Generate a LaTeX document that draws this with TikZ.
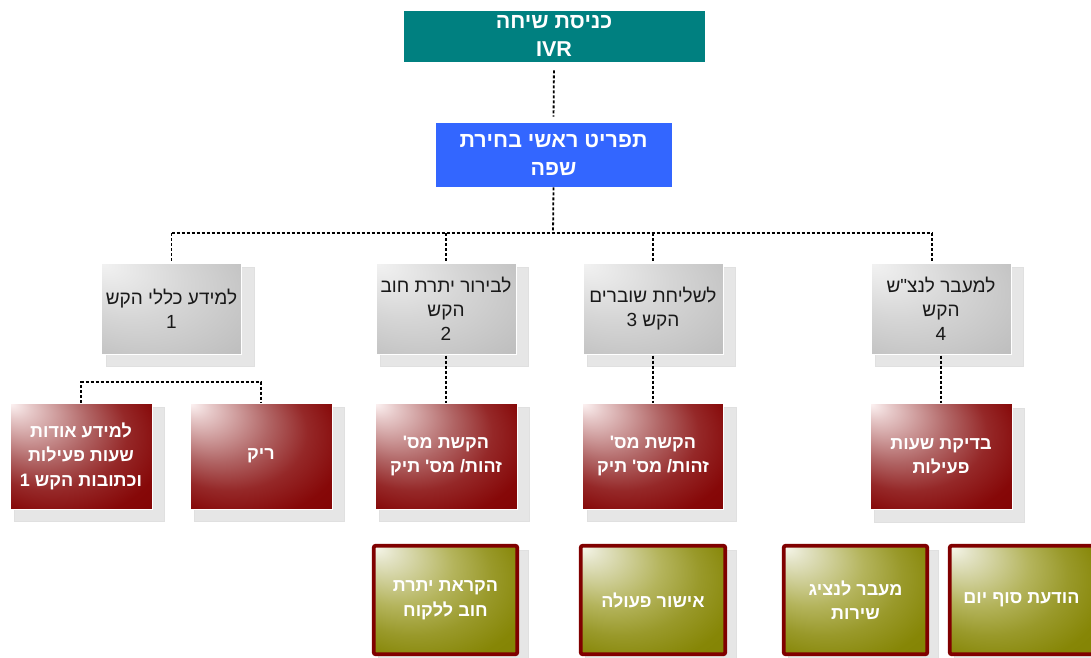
\documentclass[tikz,border=0pt]{standalone}
\usepackage{fontspec}
\usetikzlibrary{backgrounds}
\TeXXeTstate=1
\newfontfamily\hebfont[Script=Hebrew]{Liberation Sans}
\newcommand{\rtltext}[1]{\beginR#1\endR}

\definecolor{tealhead}{HTML}{008080}
\definecolor{bluemenu}{HTML}{3366FF}
\definecolor{dropgray}{HTML}{E6E6E6}
\definecolor{darkred}{HTML}{800000}
\definecolor{grayA}{HTML}{F2F2F2}
\definecolor{grayB}{HTML}{D6D6D6}
\definecolor{grayC}{HTML}{C2C2C2}
\definecolor{grayD}{HTML}{B4B4B4}
\definecolor{redA}{HTML}{FDF3F3}
\definecolor{redB}{HTML}{E6C8C8}
\definecolor{redC}{HTML}{B06464}
\definecolor{redD}{HTML}{952828}
\definecolor{redE}{HTML}{860808}
\definecolor{oliveA}{HTML}{F8F8EE}
\definecolor{oliveB}{HTML}{E2E2C4}
\definecolor{oliveC}{HTML}{B4B45C}
\definecolor{oliveD}{HTML}{99992A}
\definecolor{oliveE}{HTML}{868606}
\definecolor{oliveF}{HTML}{808000}

% light spot in the upper left corner, fading towards the lower right
% (a shaded path covers the square from -25bp to 25bp of the shading)
\pgfdeclareradialshading{grayglow}{\pgfpoint{-25bp}{25bp}}{%
  color(0bp)=(grayA); color(20bp)=(grayB); color(37.5bp)=(grayC); color(50bp)=(grayD)}
\pgfdeclareradialshading{redglow}{\pgfpoint{-25bp}{25bp}}{%
  color(0bp)=(redA); color(5bp)=(redB); color(18.5bp)=(redC); color(27.5bp)=(redD);
  color(36.5bp)=(redE); color(50bp)=(darkred)}
\pgfdeclareradialshading{oliveglow}{\pgfpoint{-25bp}{25bp}}{%
  color(0bp)=(oliveA); color(5bp)=(oliveB); color(18.5bp)=(oliveC); color(27.5bp)=(oliveD);
  color(36.5bp)=(oliveE); color(50bp)=(oliveF)}

\tikzset{
  headbox/.style={fill=#1, draw=white, line width=0.8pt, text=white, align=center,
    font=\hebfont\bfseries\fontsize{21.5}{28}\selectfont, inner sep=0pt},
  menubox/.style={shade, shading=grayglow, draw=white, line width=1pt,
    minimum width=140pt, minimum height=91pt, inner sep=0pt, align=center,
    text=black!90, font=\hebfont\fontsize{19}{24}\selectfont},
  actionbox/.style={shade, shading=redglow, draw=white, line width=1pt,
    minimum width=142pt, minimum height=106pt, inner sep=0pt, align=center,
    text=white, font=\hebfont\bfseries\fontsize{18}{24.5}\selectfont},
  leafbox/.style={shade, shading=oliveglow, draw=darkred, line width=3.8pt,
    rounded corners=2pt, minimum width=143.5pt, minimum height=108.5pt,
    inner sep=0pt, align=center, text=white,
    font=\hebfont\bfseries\fontsize{18}{24.5}\selectfont},
  conn/.style={draw=black, line width=1.8pt, dash pattern=on 3pt off 2pt},
  dropfill/.style={fill=dropgray, draw=black!12, line width=0.5pt}
}

\begin{document}
\begin{tikzpicture}[x=1pt, y=-1pt]
\useasboundingbox (0,0) rectangle (1091,657);

% top of the tree
\node[headbox=tealhead, minimum width=302pt, minimum height=52pt] (ivr) at (554,36)
  {\rtltext{כניסת שיחה}\\IVR};
\node[headbox=bluemenu, minimum width=237pt, minimum height=65pt] (lang) at (553.5,154.5)
  {\rtltext{תפריט ראשי בחירת}\\\rtltext{שפה}};

% main menu options
\node[menubox] (g1) at (171.5,308.5) {\rtltext{למידע כללי הקש}\\1};
\node[menubox] (g2) at (446,308.5) {\rtltext{לבירור יתרת חוב}\\\rtltext{הקש}\\2};
\node[menubox] (g3) at (653,308.5) {\rtltext{לשליחת שוברים}\\\rtltext{הקש 3}};
\node[menubox] (g4) at (941,308.5) {\rtltext{למעבר לנצ"ש}\\\rtltext{הקש}\\4};

% actions under each option
\node[actionbox] (r1) at (81,456) {\rtltext{למידע אודות}\\\rtltext{שעות פעילות}\\\rtltext{וכתובות הקש 1}};
\node[actionbox] (r2) at (261,456) {\rtltext{ריק}};
\node[actionbox] (r3) at (446,456) {\rtltext{הקשת מס'}\\\rtltext{זהות/ מס' תיק}};
\node[actionbox, minimum width=141pt] (r4) at (653,456) {\rtltext{הקשת מס'}\\\rtltext{זהות/ מס' תיק}};
\node[actionbox] (r5) at (941,456.5) {\rtltext{בדיקת שעות}\\\rtltext{פעילות}};

% end points
\node[leafbox] (l1) at (445.5,600) {\rtltext{הקראת יתרת}\\\rtltext{חוב ללקוח}};
\node[leafbox, minimum width=144.5pt] (l2) at (653,600) {\rtltext{אישור פעולה}};
\node[leafbox] (l3) at (855.5,600) {\rtltext{מעבר לנציג}\\\rtltext{שירות}};
\node[leafbox] (l4) at (1021.5,600) {\rtltext{הודעת סוף יום}};

% drop shadows behind the boxes
\begin{scope}[on background layer]
  \foreach \b in {g1,g2,g3,g4,r1,r2,r3,r4,r5}
    \draw[dropfill] ([xshift=5pt,yshift=-5pt]\b.north west) rectangle ([xshift=12pt,yshift=-12pt]\b.south east);
  \foreach \b in {l1,l2,l3,l4}
    \draw[dropfill] ([xshift=6pt,yshift=-6pt]\b.north west) rectangle ([xshift=9pt,yshift=-9pt]\b.south east);
\end{scope}

% connectors
\coordinate (hub) at (553,233);
\coordinate (d4) at (932,233);
\coordinate (b1) at (81,382);
\coordinate (b2) at (261,382);

\draw[conn, shorten <=8pt, shorten >=5pt] (ivr.south) -- (lang.north);
\draw[conn] (lang.south) -- (hub);
\draw[conn] (g1.north |- hub) -- (d4);
\draw[conn, shorten >=2pt] (g1.north |- hub) -- (g1.north);
\draw[conn, shorten >=2pt] (g2.north |- hub) -- (g2.north);
\draw[conn, shorten >=2pt] (g3.north |- hub) -- (g3.north);
\draw[conn, shorten >=2pt] (d4) -- (d4 |- g4.north);

\draw[conn, shorten <=1pt] (g2.south) -- (r3.north);
\draw[conn, shorten <=1pt] (g3.south) -- (r4.north);
\draw[conn, shorten <=1pt] (g4.south) -- (r5.north);
\draw[conn] (r1.north) -- (b1) -- (b2) -- (r2.north);
\end{tikzpicture}
\end{document}
